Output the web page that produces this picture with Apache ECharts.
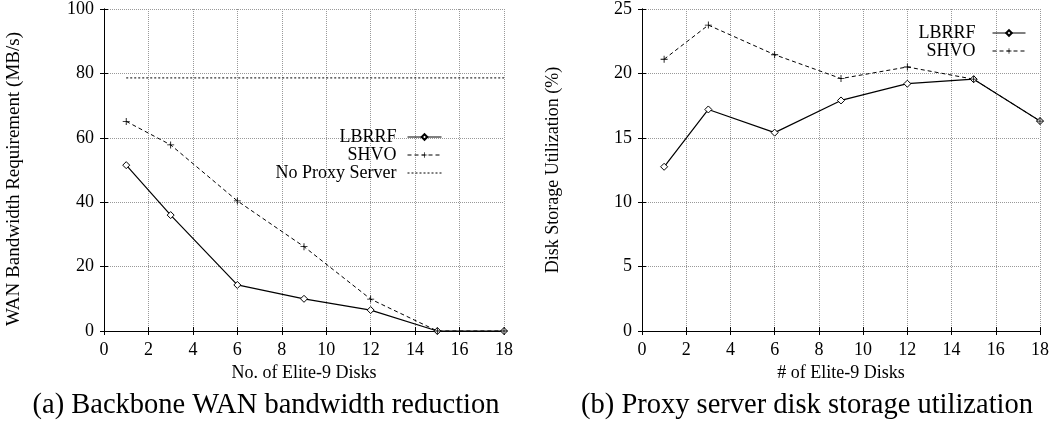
<!DOCTYPE html>
<html>
<head>
<meta charset="utf-8">
<script src="https://cdn.jsdelivr.net/npm/echarts@6/dist/echarts.min.js"></script>
<style>
    html, body { margin: 0; padding: 0; background: #fff; }
    #chart { width: 1063px; height: 425px; }
</style>
</head>
<body>
<div id="chart"></div>
<script>
// ============================================
// DATA
// ============================================

const diskCounts = [1, 3, 6, 9, 12, 15, 18];

// (a) WAN bandwidth requirement (MB/s)
const wanLbrrf = [51.5, 36.0, 14.3, 10.0, 6.5, 0, 0];
const wanShvo = [65.1, 57.8, 40.4, 26.2, 9.9, 0, 0];
const wanNoProxy = [78.6, 78.6, 78.6, 78.6, 78.6, 78.6, 78.6];

// (b) disk storage utilization (%)
const diskLbrrf = [12.75, 17.2, 15.4, 17.9, 19.2, 19.55, 16.3];
const diskShvo = [21.1, 23.75, 21.45, 19.6, 20.5, 19.55, 16.3];

const xTicks = [0, 2, 4, 6, 8, 10, 12, 14, 16, 18];

const captionA = '(a) Backbone WAN bandwidth reduction';
const captionB = '(b) Proxy server disk storage utilization';

// ============================================
// STYLE HELPERS
// ============================================

const FONT = "'Liberation Serif', 'Times New Roman', serif";
const plusPath = 'path://M4.4,0H5.6V4.4H10V5.6H5.6V10H4.4V5.6H0V4.4H4.4Z';

function pairs(ys) {
    return diskCounts.map((x, i) => [x, ys[i]]);
}

function mainX(gridIndex, name) {
    return {
        type: 'value',
        gridIndex: gridIndex,
        min: 0,
        max: 18,
        interval: 2,
        name: name,
        nameLocation: 'middle',
        nameGap: 24,
        nameTextStyle: { color: '#000', fontFamily: FONT, fontSize: 18 },
        axisLine: { show: true, lineStyle: { color: '#000', width: 1 } },
        axisTick: { show: true, inside: true, length: 4, lineStyle: { color: '#000' } },
        axisLabel: {
            color: '#000', fontFamily: FONT, fontSize: 18, margin: 10,
            formatter: v => xTicks.includes(v) ? String(v) : ''
        },
        splitLine: { show: true, lineStyle: { color: '#999', type: 'dotted', width: 1 } }
    };
}

function mirrorX(gridIndex) {
    return {
        type: 'value', gridIndex: gridIndex, position: 'top',
        min: 0, max: 18, interval: 2,
        axisLine: { show: true, lineStyle: { color: '#000' } },
        axisTick: { show: true, inside: true, length: 4, lineStyle: { color: '#000' } },
        axisLabel: { show: false },
        splitLine: { show: false }
    };
}

function mainY(gridIndex, max, interval, name, fontSize, namePad) {
    return {
        type: 'value',
        gridIndex: gridIndex,
        min: 0,
        max: max,
        interval: interval,
        name: name,
        nameLocation: 'middle',
        nameGap: 80,
        nameTextStyle: {
            color: '#000', fontFamily: FONT, fontSize: fontSize,
            padding: [0, namePad, 0, 0]
        },
        axisLine: { show: true, lineStyle: { color: '#000', width: 1 } },
        axisTick: { show: true, inside: true, length: 4, lineStyle: { color: '#000' } },
        axisLabel: { color: '#000', fontFamily: FONT, fontSize: 18, margin: 10 },
        splitLine: { show: true, lineStyle: { color: '#999', type: 'dotted', width: 1 } }
    };
}

function mirrorY(gridIndex, max, interval) {
    return {
        type: 'value', gridIndex: gridIndex, position: 'right',
        min: 0, max: max, interval: interval,
        axisLine: { show: true, lineStyle: { color: '#000' } },
        axisTick: { show: true, inside: true, length: 4, lineStyle: { color: '#000' } },
        axisLabel: { show: false },
        splitLine: { show: false }
    };
}

function lbrrfSeries(axisIndex, ys) {
    return {
        name: 'LBRRF', type: 'line',
        xAxisIndex: axisIndex, yAxisIndex: axisIndex,
        data: pairs(ys),
        symbol: 'diamond', symbolSize: 7,
        itemStyle: { color: '#fff', borderColor: '#000', borderWidth: 1 },
        lineStyle: { color: '#000', width: 1.2, type: 'solid' },
        animation: false
    };
}

function shvoSeries(axisIndex, ys) {
    return {
        name: 'SHVO', type: 'line',
        xAxisIndex: axisIndex, yAxisIndex: axisIndex,
        data: pairs(ys),
        symbol: plusPath, symbolSize: 7,
        itemStyle: { color: '#000' },
        lineStyle: { color: '#000', width: 1, type: [4, 3] },
        animation: false
    };
}

function legendText(gap) {
    return { color: '#000', fontFamily: FONT, fontSize: 18, padding: [0, gap, 0, 0] };
}

// ============================================
// CHART
// ============================================

const chart = echarts.init(document.getElementById('chart'), null, { renderer: 'canvas' });

const option = {
    backgroundColor: '#fff',
    animation: false,
    grid: [
        { left: 104, right: 559, top: 8, bottom: 94 },
        { left: 642, right: 23, top: 8, bottom: 94 }
    ],
    xAxis: [
        mainX(0, 'No. of Elite-9 Disks'),
        mainX(1, '# of Elite-9 Disks'),
        mirrorX(0),
        mirrorX(1)
    ],
    yAxis: [
        mainY(0, 100, 20, 'WAN Bandwidth Requirement (MB/s)', 19, 18),
        mainY(1, 25, 5, 'Disk Storage Utilization (%)', 18, 0),
        mirrorY(0, 100, 20),
        mirrorY(1, 25, 5)
    ],
    legend: [
        {
            data: [
                'LBRRF',
                'SHVO',
                { name: 'No Proxy Server', itemStyle: { opacity: 0 } }
            ],
            orient: 'vertical', align: 'right',
            right: 621, top: 128, padding: 0,
            itemWidth: 34, itemHeight: 7, itemGap: 0,
            lineStyle: { width: 1 },
            textStyle: legendText(6)
        },
        {
            data: ['LBRRF', 'SHVO'],
            orient: 'vertical', align: 'right',
            right: 37, top: 24, padding: 0,
            itemWidth: 33, itemHeight: 7, itemGap: 0,
            lineStyle: { width: 1 },
            textStyle: legendText(12)
        }
    ],
    series: [
        lbrrfSeries(0, wanLbrrf),
        shvoSeries(0, wanShvo),
        {
            name: 'No Proxy Server', type: 'line',
            xAxisIndex: 0, yAxisIndex: 0,
            data: pairs(wanNoProxy),
            showSymbol: false, symbol: 'none',
            itemStyle: { color: '#000' },
            lineStyle: { color: '#000', width: 1, type: [2, 2] },
            animation: false
        },
        lbrrfSeries(1, diskLbrrf),
        shvoSeries(1, diskShvo)
    ],
    graphic: [
        {
            type: 'text', x: 266, y: 406,
            style: {
                text: captionA, fill: '#000', font: '28.5px ' + FONT,
                textAlign: 'center', textVerticalAlign: 'middle'
            }
        },
        {
            type: 'text', x: 807, y: 406,
            style: {
                text: captionB, fill: '#000', font: '28.5px ' + FONT,
                textAlign: 'center', textVerticalAlign: 'middle'
            }
        }
    ]
};

chart.setOption(option);
</script>
</body>
</html>
